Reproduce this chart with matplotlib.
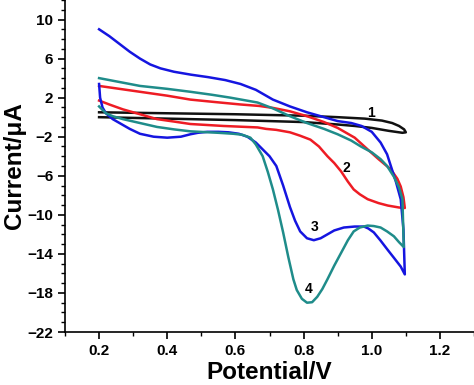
import numpy as np
import matplotlib
matplotlib.use("Agg")
import matplotlib.pyplot as plt
from matplotlib.ticker import MultipleLocator

plt.rcParams['font.family'] = ['Liberation Sans', 'DejaVu Sans']

# curve 1 (black)
black_fwd_x = [0.2, 0.4, 0.6, 0.8, 0.9, 0.98, 1.03, 1.06, 1.08, 1.095, 1.1]
black_fwd_y = [0.5, 0.4, 0.3, 0.15, 0.0, -0.15, -0.35, -0.6, -0.9, -1.25, -1.55]
black_rev_x = [1.09, 1.08, 1.05, 1.0, 0.95, 0.9, 0.8, 0.6, 0.4, 0.2]
black_rev_y = [-1.6, -1.55, -1.4, -1.1, -0.9, -0.75, -0.5, -0.3, -0.15, 0.0]

# curve 2 (red)
red_fwd_x = [0.2, 0.26, 0.32, 0.4, 0.468, 0.54, 0.615, 0.67, 0.71, 0.76, 0.81, 0.86,
             0.9, 0.95, 0.988, 1.02, 1.056, 1.075, 1.085, 1.093, 1.097]
red_fwd_y = [3.2, 2.9, 2.6, 2.2, 1.8, 1.55, 1.3, 1.15, 0.95, 0.6, 0.1, -0.5,
             -1.1, -2.1, -3.3, -4.3, -5.35, -6.3, -7.1, -8.2, -9.3]
red_rev_x = [1.08, 1.047, 1.02, 0.988, 0.965, 0.947, 0.93, 0.91, 0.89, 0.87, 0.845,
             0.82, 0.79, 0.76, 0.72, 0.69, 0.665, 0.565, 0.468, 0.42, 0.37, 0.32,
             0.27, 0.23, 0.2]
red_rev_y = [-9.25, -9.05, -8.8, -8.4, -7.9, -7.4, -6.6, -5.55, -4.7, -4.0, -3.0,
             -2.3, -1.9, -1.55, -1.3, -1.2, -1.05, -0.9, -0.7, -0.45, -0.2, 0.3,
             0.8, 1.3, 1.7]

# curve 3 (blue)
blue_fwd_x = [0.2, 0.23, 0.26, 0.29, 0.32, 0.35, 0.38, 0.42, 0.47, 0.52, 0.57,
              0.615, 0.66, 0.71, 0.76, 0.81, 0.86, 0.9, 0.94, 0.97, 1.0, 1.026,
              1.045, 1.056, 1.07, 1.085, 1.093, 1.097]
blue_fwd_y = [9.0, 8.3, 7.5, 6.7, 6.0, 5.4, 5.0, 4.65, 4.35, 4.1, 3.8,
              3.4, 2.8, 1.8, 1.1, 0.5, 0.0, -0.4, -0.6, -0.9, -1.5, -2.6,
              -3.8, -5.0, -6.5, -8.4, -11.5, -16.1]
blue_rev_x = [1.085, 1.065, 1.047, 1.025, 1.006, 0.99, 0.977, 0.95, 0.918, 0.89,
              0.87, 0.85, 0.83, 0.81, 0.79, 0.775, 0.76, 0.74, 0.72, 0.70, 0.68,
              0.66, 0.635, 0.61, 0.58, 0.55, 0.518, 0.49, 0.468, 0.44, 0.40, 0.36,
              0.32, 0.29, 0.27, 0.24, 0.22, 0.21, 0.203, 0.2]
blue_rev_y = [-15.3, -14.4, -13.6, -12.6, -11.8, -11.4, -11.2, -11.2, -11.3, -11.6,
              -12.0, -12.4, -12.6, -12.4, -11.7, -10.6, -9.2, -7.0, -5.0, -4.0, -3.3,
              -2.6, -2.0, -1.7, -1.55, -1.5, -1.5, -1.6, -1.75, -2.0, -2.1, -2.0,
              -1.7, -1.2, -0.8, -0.2, 0.4, 1.0, 2.0, 3.4]

# curve 4 (teal)
teal_fwd_x = [0.2, 0.26, 0.32, 0.4, 0.468, 0.53, 0.585, 0.665, 0.71, 0.76, 0.81,
              0.86, 0.9, 0.94, 0.968, 1.0, 1.026, 1.045, 1.065, 1.08, 1.09, 1.094]
teal_fwd_y = [4.0, 3.6, 3.2, 2.9, 2.6, 2.3, 2.0, 1.5, 0.9, 0.1, -0.6,
              -1.2, -1.75, -2.4, -3.0, -3.6, -4.3, -5.0, -6.1, -7.2, -8.4, -13.3]
teal_rev_x = [1.08, 1.065, 1.045, 1.026, 1.006, 0.988, 0.965, 0.947, 0.93, 0.91,
              0.89, 0.87, 0.855, 0.84, 0.825, 0.81, 0.795, 0.78, 0.77, 0.755, 0.74,
              0.725, 0.71, 0.695, 0.68, 0.66, 0.644, 0.62, 0.594, 0.55, 0.468,
              0.42, 0.37, 0.32, 0.27, 0.24, 0.22, 0.2]
teal_rev_y = [-12.8, -12.2, -11.7, -11.3, -11.15, -11.1, -11.3, -11.7, -12.6, -13.9,
              -15.2, -16.6, -17.6, -18.4, -18.95, -19.0, -18.6, -17.7, -16.6, -14.3, -11.8,
              -9.5, -7.4, -5.6, -4.0, -2.8, -2.1, -1.8, -1.7, -1.6, -1.45,
              -1.25, -1.0, -0.6, -0.2, 0.1, 0.4, 1.1]

curves = [
    (black_fwd_x + black_rev_x, black_fwd_y + black_rev_y, '#111111', '1', (0.997, 0.4)),
    (red_fwd_x + red_rev_x, red_fwd_y + red_rev_y, '#ee1c24', '2', (0.926, -5.2)),
    (blue_fwd_x + blue_rev_x, blue_fwd_y + blue_rev_y, '#1515e0', '3', (0.832, -11.2)),
    (teal_fwd_x + teal_rev_x, teal_fwd_y + teal_rev_y, '#1f8c8a', '4', (0.815, -17.6)),
]

fig = plt.figure(figsize=(4.74, 3.85), dpi=100)
ax = fig.add_axes([65 / 474, 53 / 385, 409 / 474, 332 / 385])

for xs, ys, color, label, pos in curves:
    ax.plot(xs, ys, color=color, lw=1.8, solid_joinstyle='round')
    ax.text(pos[0], pos[1], label, fontsize=10, fontweight='bold',
            ha='center', va='center')

ax.set_xlim(0.1, 1.3)
ax.set_ylim(-22, 12)
ax.set_xticks([0.2, 0.4, 0.6, 0.8, 1.0, 1.2])
ax.set_xticklabels(['0.2', '0.4', '0.6', '0.8', '1.0', '1.2'])
ax.xaxis.set_minor_locator(MultipleLocator(0.1))
ax.set_yticks(np.arange(-22, 11, 4))
ax.yaxis.set_minor_locator(MultipleLocator(1))

for s in ['top', 'right']:
    ax.spines[s].set_visible(False)
for s in ['left', 'bottom']:
    ax.spines[s].set_linewidth(1.2)

ax.tick_params(which='major', direction='out', length=5, width=1.2, labelsize=11)
ax.tick_params(which='minor', direction='out', length=3, width=1.0)
for lbl in ax.get_xticklabels() + ax.get_yticklabels():
    lbl.set_fontweight('bold')

ax.set_xlabel('Potential/V', fontsize=17.5, fontweight='bold', labelpad=2)
ax.set_ylabel('Current/μA', fontsize=17.5, fontweight='bold', labelpad=1)

fig.savefig('out.png', dpi=100)
